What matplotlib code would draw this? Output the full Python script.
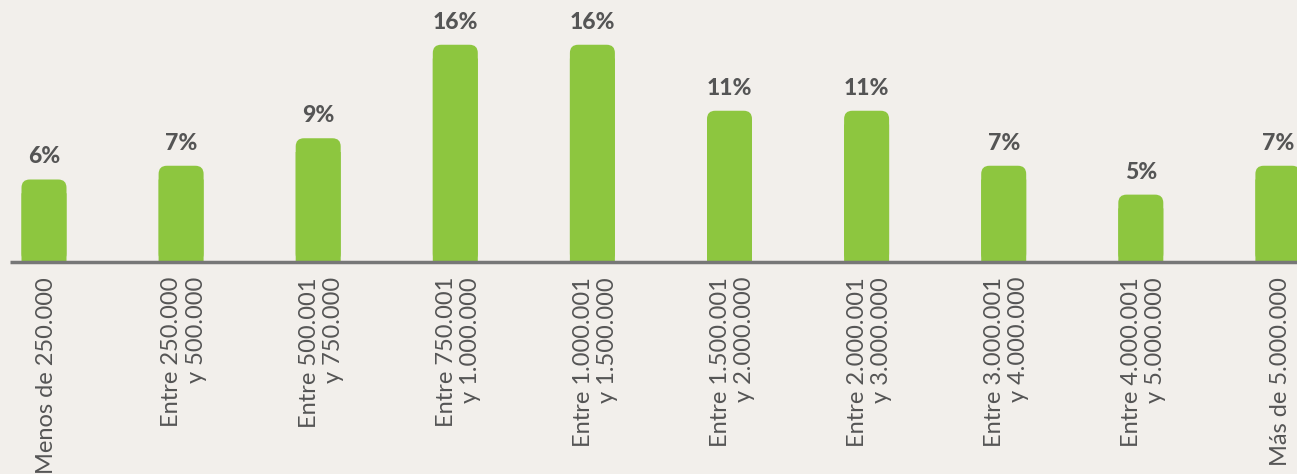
import matplotlib
matplotlib.use("Agg")
import matplotlib.pyplot as plt
from matplotlib.patches import FancyBboxPatch

# income ranges and share of respondents
categories = [
    "Menos de 250.000",
    "Entre 250.000\ny 500.000",
    "Entre 500.001\ny 750.000",
    "Entre 750.001\ny 1.000.000",
    "Entre 1.000.001\ny 1.500.000",
    "Entre 1.500.001\ny 2.000.000",
    "Entre 2.000.001\ny 3.000.000",
    "Entre 3.000.001\ny 4.000.000",
    "Entre 4.000.001\ny 5.000.000",
    "Más de 5.000.000",
]
values = [6.0, 7.0, 9.0, 15.8, 15.8, 11.0, 11.0, 7.0, 4.9, 7.0]
labels = ["6%", "7%", "9%", "16%", "16%", "11%", "11%", "7%", "5%", "7%"]

bg = "#f2efeb"
green = "#8dc63f"
grey = "#555555"

W, H = 1297, 474
fig = plt.figure(figsize=(W / 100, H / 100), dpi=100, facecolor=bg)
ax = fig.add_axes([0, 0, 1, 1])
ax.set_facecolor(bg)

step = 137.1          # px between bar centres
first = 44.0          # px of first bar centre
base = 212.0          # px of baseline from bottom
ppu = 13.75           # px per percent
ax.set_xlim(-first / step, (W - first) / step)
ax.set_ylim(-base / ppu, (H - base) / ppu)
ax.axis("off")

bw = 45.0 / step
aspect = step / ppu
for i, v in enumerate(values):
    box = FancyBboxPatch((i - bw / 2, 0), bw, v,
                         boxstyle="round,pad=0,rounding_size=0.06",
                         mutation_aspect=aspect, fc=green, ec="none", zorder=2, snap=False)
    ax.add_patch(box)
    ax.add_patch(plt.Rectangle((i - bw / 2, 0), bw, v - 1.0, fc=green, ec="none",
                               zorder=2, snap=False))
    ax.text(i, v + 12 / ppu, labels[i], ha="center", va="bottom",
            fontsize=16.5, fontweight="black", color=grey, family="Lato")
    ax.text(i + 3 / step, -15 / ppu, categories[i], rotation=90, ha="center", va="top",
            multialignment="right", fontsize=17, color=grey, family="Lato",
            linespacing=1.2)

ax.plot([(10 - first) / step, (W - first) / step], [0, 0], color="#777777", lw=2.5, zorder=3,
        solid_capstyle="butt")

fig.savefig("out.png", dpi=100, facecolor=bg)
